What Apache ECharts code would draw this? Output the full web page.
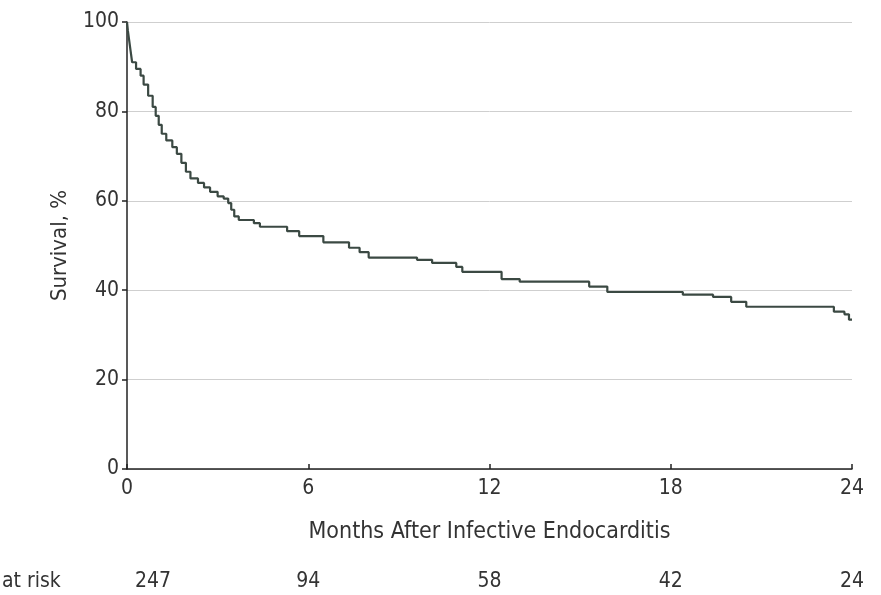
<!DOCTYPE html>
<html>
<head>
<meta charset="utf-8">
<title>Survival after infective endocarditis</title>
<script src="https://cdn.jsdelivr.net/npm/echarts@6/dist/echarts.min.js"></script>
<style>
  html, body { margin: 0; padding: 0; background: #fff; }
  #chart { width: 881px; height: 595px; }
</style>
</head>
<body>
<div id="chart"></div>
<script>
// Kaplan-Meier curve (months, survival %)
var months = [0, 0.03, 0.07, 0.12, 0.17, 0.3, 0.45, 0.55, 0.7, 0.85, 0.95, 1.05, 1.15, 1.3, 1.5, 1.65,
  1.8, 1.95, 2.1, 2.35, 2.55, 2.75, 3.0, 3.2, 3.35, 3.45, 3.55, 3.7, 4.2, 4.4, 5.3, 5.7, 6.5,
  7.35, 7.7, 8.0, 9.6, 10.1, 10.9, 11.1, 12.4, 13.0, 15.3, 15.9, 18.4, 19.4, 20.0, 20.5,
  23.4, 23.75, 23.9, 24];
var survival = [100, 98, 96, 93.5, 91, 89.5, 88, 86, 83.5, 81, 79, 77, 75, 73.5, 72, 70.5,
  68.5, 66.5, 65, 64, 63, 62, 61, 60.5, 59.5, 58, 56.5, 55.7, 55, 54.2, 53.2, 52.1, 50.7,
  49.5, 48.5, 47.3, 46.8, 46.1, 45.2, 44.1, 42.5, 41.9, 40.8, 39.6, 39.0, 38.5, 37.4, 36.3,
  35.2, 34.6, 33.4, 33.4];

// ticks and number at risk
var xTicks = [0, 6, 12, 18, 24];
var atRisk = [247, 94, 58, 42, 24];

var FONT = "'DejaVu Sans Condensed', 'DejaVu Sans', sans-serif";
var TXT = '#333';

var chart = echarts.init(document.getElementById('chart'));

var option = {
  animation: false,
  grid: { left: 127, right: 29, top: 22, bottom: 126 },
  xAxis: [
    {
      type: 'value',
      min: 0,
      max: 24,
      interval: 6,
      name: 'Months After Infective Endocarditis',
      nameLocation: 'middle',
      nameGap: 52,
      nameTextStyle: { fontFamily: FONT, fontSize: 23, color: TXT },
      axisLine: { show: true, lineStyle: { color: '#222', width: 1.5 } },
      axisTick: { show: true, inside: true, length: 5, lineStyle: { color: '#222', width: 1.5 } },
      axisLabel: { margin: 9, fontFamily: FONT, fontSize: 21, color: TXT },
      splitLine: { show: false }
    },
    {
      // number at risk row, placed on the same scale
      type: 'value',
      position: 'bottom',
      offset: 96,
      min: 0,
      max: 24,
      interval: 6,
      axisLine: { show: false },
      axisTick: { show: false },
      splitLine: { show: false },
      axisLabel: {
        margin: 6,
        fontFamily: FONT,
        fontSize: 21,
        color: TXT,
        formatter: function (v) {
          var i = xTicks.indexOf(v);
          if (i < 0) return '';
          return i === 0 ? '{first|' + atRisk[i] + '}' : String(atRisk[i]);
        },
        rich: {
          first: { fontFamily: FONT, fontSize: 21, color: TXT, padding: [0, 0, 0, 52] }
        }
      }
    }
  ],
  yAxis: {
    type: 'value',
    min: 0,
    max: 100,
    interval: 20,
    name: 'Survival, %',
    nameLocation: 'middle',
    nameGap: 56,
    nameTextStyle: { fontFamily: FONT, fontSize: 22, color: TXT },
    axisLine: { show: true, lineStyle: { color: '#222', width: 1.5 } },
    axisTick: { show: true, length: 5, lineStyle: { color: '#222', width: 1.5 } },
    axisLabel: { margin: 8, fontFamily: FONT, fontSize: 21, color: TXT },
    splitLine: { show: true, lineStyle: { color: '#cfcfcf', width: 1 } }
  },
  graphic: [
    {
      type: 'text',
      left: 2,
      top: 571,
      style: { text: 'at risk', font: '21px ' + FONT, fill: TXT }
    }
  ],
  series: [
    {
      name: 'Survival',
      type: 'line',
      step: 'end',
      showSymbol: false,
      xAxisIndex: 0,
      lineStyle: { color: '#3b4943', width: 2.2 },
      data: months.map(function (m, i) { return [m, survival[i]]; })
    }
  ]
};

chart.setOption(option);
</script>
</body>
</html>
